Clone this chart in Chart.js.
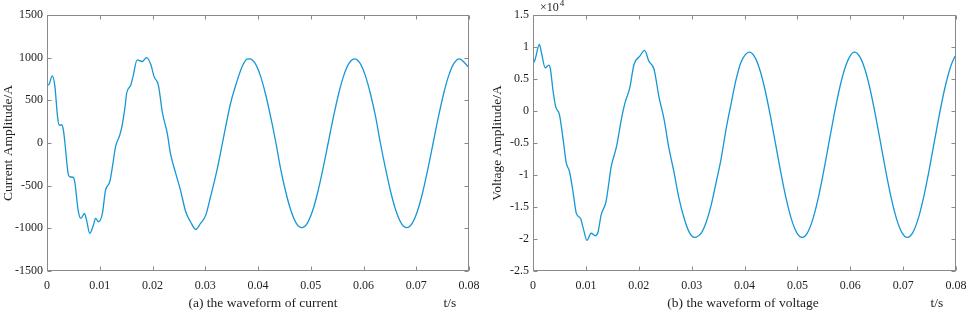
<!DOCTYPE html>
<html>
<head>
<meta charset="utf-8">
<script src="https://cdn.jsdelivr.net/npm/chart.js@4.4.1/dist/chart.umd.min.js"></script>
<style>
  body { margin: 0; background: #fff; }
  .panel { position: absolute; top: 0; height: 313px; }
  #left { left: 0; width: 484px; }
  #right { left: 484px; width: 485px; }
</style>
</head>
<body>
<div class="panel" id="left"><canvas id="currentChart"></canvas></div>
<div class="panel" id="right"><canvas id="voltageChart"></canvas></div>
<script>
// time axis (s)
const timeTicks = [0, 0.01, 0.02, 0.03, 0.04, 0.05, 0.06, 0.07, 0.08];
const timeTickLabels = ['0', '0.01', '0.02', '0.03', '0.04', '0.05', '0.06', '0.07', '0.08'];

const currentTicks = [-1500, -1000, -500, 0, 500, 1000, 1500];
const currentTickLabels = ['-1500', '-1000', '-500', '0', '500', '1000', '1500'];

// voltage values are in units of 1e4
const voltageTicks = [-2.5, -2, -1.5, -1, -0.5, 0, 0.5, 1, 1.5];
const voltageTickLabels = ['-2.5', '-2', '-1.5', '-1', '-0.5', '0', '0.5', '1', '1.5'];

// current waveform
const currentTime = [
  0, 0.0003, 0.001, 0.0015, 0.002, 0.0023, 0.0028, 0.0031, 0.0034, 0.004,
  0.0043, 0.005, 0.0053, 0.0059, 0.0064, 0.0071, 0.0075, 0.0081, 0.0088, 0.0092,
  0.0098, 0.0105, 0.0111, 0.0119, 0.0125, 0.013, 0.0138, 0.0142, 0.0148, 0.0151,
  0.0159, 0.0163, 0.0171, 0.018, 0.0189, 0.0197, 0.0203, 0.0211, 0.0219, 0.0228,
  0.0234, 0.0244, 0.0253, 0.0263, 0.0272, 0.0282, 0.0291, 0.0301, 0.031, 0.0323,
  0.0335, 0.0348, 0.0359, 0.037, 0.0379,
  0.0384, 0.0394, 0.0404, 0.0414, 0.0424, 0.0434, 0.0443, 0.0453, 0.0463, 0.0473,
  0.0483, 0.0493, 0.0503, 0.0513, 0.0523, 0.0533, 0.0543, 0.0553, 0.0563, 0.0573,
  0.0583, 0.0593, 0.0603, 0.0613, 0.0623, 0.0632, 0.0642, 0.0652, 0.0662, 0.0672,
  0.0682, 0.0692, 0.0702, 0.0712, 0.0722, 0.0732, 0.0742, 0.0752, 0.0762, 0.0772,
  0.0782, 0.0792, 0.08
];
const currentAmp = [
  700, 680, 787, 661, 309, 211, 211, 153, 0, -356,
  -396, -403, -470, -787, -884, -826, -904, -1060, -963, -884,
  -923, -826, -552, -454, -239, -43, 94, 192, 426, 583,
  681, 778, 974, 955, 1001, 916, 778, 681, 349, 114,
  -121, -356, -552, -806, -923, -1013, -943, -845, -630, -297,
  74, 466, 701, 896, 983,
  986, 938, 798, 580, 305, 0, -306, -583, -803, -944,
  -992, -944, -803, -583, -306, 0, 305, 580, 798, 938,
  986, 938, 798, 580, 305, 0, -306, -583, -803, -944,
  -992, -944, -803, -583, -306, 0, 305, 580, 798, 938,
  986, 938, 880
];

// voltage waveform (x1e4)
const voltageTime = [
  0, 0.0004, 0.0012, 0.0016, 0.0023, 0.003, 0.0033, 0.0038, 0.0043, 0.005,
  0.0057, 0.0063, 0.0069, 0.0076, 0.0082, 0.009, 0.0095, 0.0102, 0.011, 0.0118,
  0.0123, 0.0129, 0.0138, 0.0148, 0.0158, 0.0167, 0.0174, 0.0183, 0.0191, 0.0202,
  0.0211, 0.0219, 0.0229, 0.0238, 0.0248, 0.0257, 0.0267, 0.0276, 0.0286, 0.0295,
  0.0305, 0.0318, 0.0327, 0.0337, 0.0346, 0.0356, 0.0365, 0.0375, 0.0384, 0.0393,
  0.0402,
  0.0409, 0.0419, 0.0429, 0.0439, 0.0449, 0.0459, 0.0469, 0.0479, 0.0489, 0.0499,
  0.0509, 0.0519, 0.0529, 0.0539, 0.0549, 0.0559, 0.0569, 0.0579, 0.0589, 0.0599,
  0.0608, 0.0618, 0.0628, 0.0638, 0.0648, 0.0658, 0.0668, 0.0678, 0.0688, 0.0698,
  0.0708, 0.0718, 0.0728, 0.0738, 0.0748, 0.0758, 0.0768, 0.0778, 0.0788, 0.0798,
  0.08
];
const voltageAmp = [
  0.738, 0.806, 1.04, 0.91, 0.675, 0.716, 0.649, 0.309, 0.064, -0.056,
  -0.448, -0.814, -0.945, -1.28, -1.6, -1.68, -1.83, -2.02, -1.91, -1.95,
  -1.89, -1.62, -1.42, -0.867, -0.553, -0.135, 0.127, 0.362, 0.727, 0.857,
  0.947, 0.78, 0.649, 0.23, -0.135, -0.578, -0.97, -1.36, -1.68, -1.885,
  -1.975, -1.91, -1.75, -1.47, -1.13, -0.735, -0.29, 0.127, 0.49, 0.754,
  0.884,
  0.92, 0.849, 0.644, 0.324, -0.08, -0.527, -0.974, -1.378, -1.698, -1.903,
  -1.974, -1.903, -1.698, -1.378, -0.974, -0.527, -0.08, 0.324, 0.644, 0.849,
  0.92, 0.849, 0.644, 0.324, -0.08, -0.527, -0.974, -1.378, -1.698, -1.903,
  -1.974, -1.903, -1.698, -1.378, -0.974, -0.527, -0.08, 0.324, 0.644, 0.849,
  0.86
];

const LINE_COLOR = '#1597d5';
const TEXT_COLOR = '#1e1e1e';
const BOX_COLOR = '#8a8a8a';
const SERIF = '"Liberation Serif", "Times New Roman", serif';

// draws the MATLAB style box, inward ticks, captions and axis titles
const framePlugin = {
  id: 'frame',
  afterDraw(chart, args, opts) {
    const { ctx, chartArea: a, scales: { x, y } } = chart;
    ctx.save();
    ctx.strokeStyle = BOX_COLOR;
    ctx.lineWidth = 1;
    const L = Math.round(a.left) + 0.5, R = Math.round(a.right) - 0.5;
    const T = Math.round(a.top) + 0.5, B = Math.round(a.bottom) - 0.5;
    ctx.strokeRect(L, T, R - L, B - T);
    ctx.beginPath();
    x.ticks.forEach(t => {
      const px = Math.round(x.getPixelForValue(t.value)) + 0.5;
      ctx.moveTo(px, B); ctx.lineTo(px, B - 4);
      ctx.moveTo(px, T); ctx.lineTo(px, T + 4);
    });
    y.ticks.forEach(t => {
      const py = Math.round(y.getPixelForValue(t.value)) + 0.5;
      ctx.moveTo(L, py); ctx.lineTo(L + 4, py);
      ctx.moveTo(R, py); ctx.lineTo(R - 4, py);
    });
    ctx.stroke();

    ctx.fillStyle = TEXT_COLOR;
    ctx.font = '13.5px ' + SERIF;
    ctx.textAlign = 'center';
    ctx.textBaseline = 'middle';
    ctx.fillText(opts.caption, opts.captionX, 303);
    ctx.fillText('t/s', opts.unitX, 303);

    ctx.save();
    ctx.translate(opts.titleX, (a.top + a.bottom) / 2);
    ctx.rotate(-Math.PI / 2);
    ctx.fillText(opts.yTitle, 0, 0);
    ctx.restore();

    if (opts.exponent) {
      ctx.textAlign = 'left';
      ctx.font = '12px ' + SERIF;
      ctx.fillText('\u00d710', a.left + 7, 8);
      const w = ctx.measureText('\u00d710').width;
      ctx.font = '9px ' + SERIF;
      ctx.fillText(opts.exponent, a.left + 7 + w + 1, 4);
    }
    ctx.restore();
  }
};

function makeChart(id, times, values, yTicks, yLabels, yMin, yMax, leftWidth, rightPad, deco) {
  const points = times.map((t, i) => ({ x: t, y: values[i] }));
  return new Chart(document.getElementById(id), {
    type: 'line',
    data: {
      datasets: [{
        data: points,
        borderColor: LINE_COLOR,
        borderWidth: 1.3,
        pointRadius: 0,
        cubicInterpolationMode: 'monotone',
        fill: false
      }]
    },
    options: {
      responsive: true,
      maintainAspectRatio: false,
      animation: false,
      layout: { padding: { top: 15, right: rightPad, left: 0, bottom: 0 } },
      plugins: {
        legend: { display: false },
        tooltip: { enabled: false },
        frame: deco
      },
      scales: {
        x: {
          type: 'linear',
          min: 0,
          max: 0.08,
          grid: { display: false, drawTicks: false },
          border: { display: false },
          afterBuildTicks: s => { s.ticks = timeTicks.map(v => ({ value: v })); },
          afterFit: s => { s.height = 42; s.paddingLeft = 0; s.paddingRight = 0; },
          ticks: {
            padding: 8,
            maxRotation: 0,
            autoSkip: false,
            color: TEXT_COLOR,
            font: { family: SERIF, size: 12 },
            callback: (v, i) => timeTickLabels[i]
          }
        },
        y: {
          type: 'linear',
          min: yMin,
          max: yMax,
          grid: { display: false, drawTicks: false },
          border: { display: false },
          afterBuildTicks: s => { s.ticks = yTicks.map(v => ({ value: v })); },
          afterFit: s => { s.width = leftWidth; s.paddingTop = 0; s.paddingBottom = 0; },
          ticks: {
            padding: 4,
            autoSkip: false,
            color: TEXT_COLOR,
            font: { family: SERIF, size: 12 },
            callback: (v, i) => yLabels[i]
          }
        }
      }
    },
    plugins: [framePlugin]
  });
}

makeChart('currentChart', currentTime, currentAmp, currentTicks, currentTickLabels, -1500, 1500, 47, 15, {
  caption: '(a) the waveform of current', captionX: 263, unitX: 450,
  yTitle: 'Current Amplitude/A', titleX: 8
});

makeChart('voltageChart', voltageTime, voltageAmp, voltageTicks, voltageTickLabels, -2.5, 1.5, 49, 13, {
  caption: '(b) the waveform of voltage', captionX: 259, unitX: 453,
  yTitle: 'Voltage Amplitude/A', titleX: 13, exponent: '4'
});
</script>
</body>
</html>
